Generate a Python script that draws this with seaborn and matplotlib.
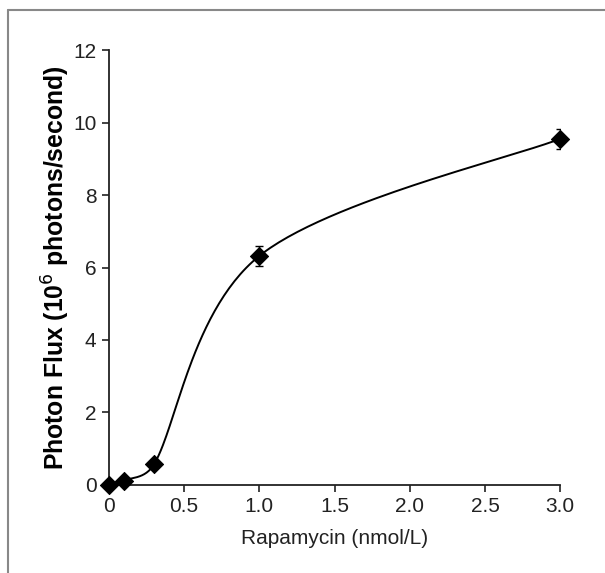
import numpy as np
import pandas as pd
import matplotlib
matplotlib.use("Agg")
import matplotlib.pyplot as plt
import seaborn as sns
from matplotlib.lines import Line2D

# Data
rapamycin = [0.0, 0.1, 0.3, 1.0, 3.0]
photon_flux = [0.0, 0.12, 0.57, 6.32, 9.55]
flux_err = [0.0, 0.0, 0.0, 0.27, 0.27]

x_ticks = [0, 0.5, 1.0, 1.5, 2.0, 2.5, 3.0]
x_tick_labels = ["0", "0.5", "1.0", "1.5", "2.0", "2.5", "3.0"]
y_ticks = [0, 2, 4, 6, 8, 10, 12]

# pixels per data unit, used only to shape the smoothed line
X_SCALE, Y_SCALE = 150.0, 36.25


def smooth_curve(xs, ys, n=60, clamp=0.5):
    """Smoothed line through the points (Catmull-Rom bezier, control arms
    limited to a fraction of the segment length so it does not overshoot)."""
    pts = np.column_stack([np.array(xs) * X_SCALE, np.array(ys) * Y_SCALE])
    padded = np.vstack([pts[0], pts, pts[-1]])
    t = np.linspace(0, 1, n)[:, None]
    out = []
    for i in range(1, len(padded) - 2):
        p0, p1, p2, p3 = padded[i - 1], padded[i], padded[i + 1], padded[i + 2]
        chord = np.linalg.norm(p2 - p1)
        a1 = (p2 - p0) / 6
        a2 = (p3 - p1) / 6
        for a in (a1, a2):
            ln = np.linalg.norm(a)
            if ln > clamp * chord:
                a *= clamp * chord / ln
        c1 = p1 + a1
        c2 = p2 - a2
        seg = ((1 - t) ** 3) * p1 + 3 * ((1 - t) ** 2) * t * c1 \
            + 3 * (1 - t) * t ** 2 * c2 + t ** 3 * p2
        out.append(seg)
    seg = np.vstack(out)
    return pd.DataFrame({"x": seg[:, 0] / X_SCALE, "y": seg[:, 1] / Y_SCALE})


sns.set_theme(style="ticks")
plt.rcParams["font.family"] = ["Liberation Sans", "DejaVu Sans"]

fig = plt.figure(figsize=(6.05, 5.73), dpi=100)
ax = fig.add_axes([0.180, 0.1536, 0.746, 0.7591])

curve = smooth_curve(rapamycin, photon_flux)
sns.lineplot(data=curve, x="x", y="y", sort=False, estimator=None,
             color="black", linewidth=1.4, ax=ax)

ax.errorbar(rapamycin, photon_flux, yerr=flux_err, fmt="none",
            ecolor="black", elinewidth=1.0, capsize=3, capthick=1.0, zorder=3)
sns.scatterplot(x=rapamycin, y=photon_flux, marker="D", s=85,
                color="black", edgecolor="black", ax=ax, zorder=4,
                clip_on=False)

ax.set_xlim(0, 3.0)
ax.set_ylim(0, 12)
ax.set_xticks(x_ticks)
ax.set_xticklabels(x_tick_labels)
ax.set_yticks(y_ticks)
ax.tick_params(axis="both", labelsize=15, colors="#222222", length=5,
               width=1.2, direction="out", pad=4)
for side in ["top", "right"]:
    ax.spines[side].set_visible(False)
for side in ["left", "bottom"]:
    ax.spines[side].set_linewidth(1.3)
    ax.spines[side].set_color("#222222")

ax.set_xlabel("Rapamycin (nmol/L)", fontsize=15, color="#222222", labelpad=9)
ax.set_ylabel("Photon Flux (10$^{6}$ photons/second)", fontsize=17.8,
              fontweight="bold", color="black", labelpad=1)

# gray frame on top and left of the figure
fig.add_artist(Line2D([8 / 605, 1], [1 - 10 / 573, 1 - 10 / 573],
                      transform=fig.transFigure, color="#888888", linewidth=1.5))
fig.add_artist(Line2D([8 / 605, 8 / 605], [0, 1 - 10 / 573],
                      transform=fig.transFigure, color="#888888", linewidth=1.5))

fig.savefig("out.png", dpi=100)
